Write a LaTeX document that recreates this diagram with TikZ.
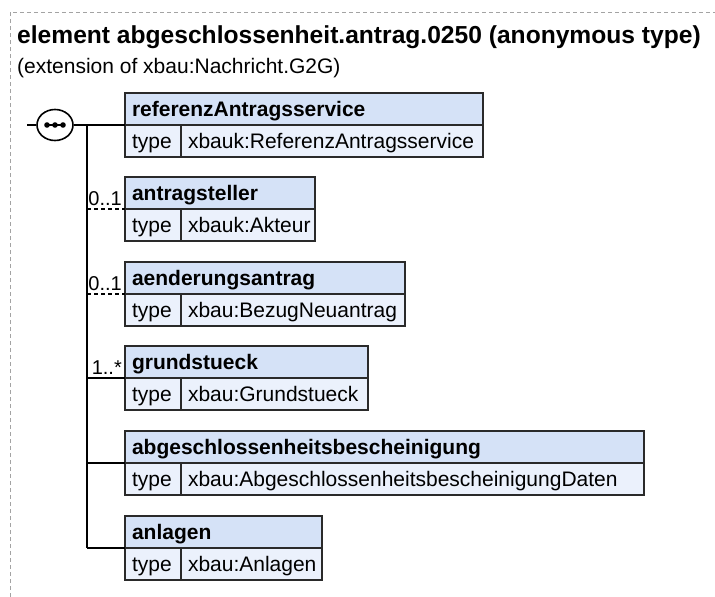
\documentclass[tikz,border=0pt]{standalone}
\usepackage{fontspec}
\setmainfont{Liberation Sans}
\definecolor{headfill}{HTML}{D5E2F7}
\definecolor{rowfill}{HTML}{EBF1FC}
\definecolor{boxline}{HTML}{2A2A2A}
\definecolor{framecol}{HTML}{A3A3A3}
\usetikzlibrary{shapes.geometric}
\hyphenpenalty=10000
\tikzset{
  elhead/.style={draw=boxline,fill=headfill,line width=1.6pt,anchor=north west,
    outer sep=0pt,inner xsep=7pt,inner ysep=0pt,minimum height=32pt,
    text width=#1,text height=16pt,text depth=2pt,align=left,
    font=\fontsize{21}{25}\selectfont\bfseries},
  elkey/.style={draw=boxline,fill=rowfill,line width=1.6pt,anchor=north west,
    outer sep=0pt,inner xsep=7pt,inner ysep=0pt,minimum height=32pt,
    text width=42pt,text height=16pt,text depth=2pt,align=left,
    font=\fontsize{21}{25}\selectfont},
  elval/.style={elkey,text width=#1},
  mult/.style={anchor=south east,inner sep=0pt,font=\fontsize{20}{24}\selectfont},
  conn/.style={line width=1.6pt},
  optconn/.style={conn,dash pattern=on 4pt off 3pt}
}

\begin{document}
\begin{tikzpicture}[x=1pt,y=-1pt]
  \useasboundingbox (0,0) rectangle (715,597);
  % ---------- frame and heading -----------------------------------
  \draw[framecol,line width=1pt,dash pattern=on 4pt off 3pt]
      (10,597) -- (10,12) -- (715,12);
  \node[anchor=base west,inner sep=0pt,font=\fontsize{24.6}{28}\selectfont\bfseries]
      (title) at (17,43) {element abgeschlossenheit.antrag.0250 (anonymous type)};
  \node[anchor=base west,inner sep=0pt,font=\fontsize{21}{25}\selectfont]
      (subtitle) at (17,73) {(extension of xbau:Nachricht.G2G)};
  % ---------- sequence compositor ---------------------------------
  \coordinate (inlet) at (27,125);
  \coordinate (trunktop) at (87,125);
  \node[ellipse,draw,fill=white,line width=1.6pt,minimum width=36pt,
        minimum height=31pt,inner sep=0pt] (seq) at (55,125) {};
  \draw[line width=1.2pt] ([xshift=-9pt]seq.center) -- ([xshift=9pt]seq.center);
  \foreach \dx in {-8,0,8}
    \fill ([xshift=\dx pt]seq.center) circle (2.8pt);
  % ---------- referenzAntragsservice ------------------------------
  \node[elhead=344pt] (refHead) at (125,93) {referenzAntragsservice};
  \node[elkey] (refKey) at (refHead.south west) {type};
  \node[elval=288pt] (refVal) at (refKey.north east) {xbauk:ReferenzAntragsservice};
  % ---------- antragsteller (0..1) --------------------------------
  \node[elhead=176pt] (stHead) at (125,177) {antragsteller};
  \node[elkey] (stKey) at (stHead.south west) {type};
  \node[elval=120pt] (stVal) at (stKey.north east) {xbauk:Akteur};
  % ---------- aenderungsantrag (0..1) -----------------------------
  \node[elhead=266pt] (aeHead) at (125,262) {aenderungsantrag};
  \node[elkey] (aeKey) at (aeHead.south west) {type};
  \node[elval=210pt] (aeVal) at (aeKey.north east) {xbau:BezugNeuantrag};
  % ---------- grundstueck (1..*) ----------------------------------
  \node[elhead=229pt] (gsHead) at (125,346) {grundstueck};
  \node[elkey] (gsKey) at (gsHead.south west) {type};
  \node[elval=173pt] (gsVal) at (gsKey.north east) {xbau:Grundstueck};
  % ---------- abgeschlossenheitsbescheinigung ---------------------
  \node[elhead=505pt] (abHead) at (125,431) {abgeschlossenheitsbescheinigung};
  \node[elkey] (abKey) at (abHead.south west) {type};
  \node[elval=449pt] (abVal) at (abKey.north east) {xbau:AbgeschlossenheitsbescheinigungDaten};
  % ---------- anlagen ---------------------------------------------
  \node[elhead=183pt] (anHead) at (125,516) {anlagen};
  \node[elkey] (anKey) at (anHead.south west) {type};
  \node[elval=127pt] (anVal) at (anKey.north east) {xbau:Anlagen};
  % ---------- connectors ------------------------------------------
  \draw[conn] (inlet) -- (seq.west);
  \draw[conn] (seq.east) -- (refHead.south west);
  \draw[conn] (trunktop) -- (trunktop |- anHead.south west);
  \draw[optconn] (trunktop |- stHead.south west) -- (stHead.south west);
  \draw[optconn] (trunktop |- aeHead.south west) -- (aeHead.south west);
  \draw[conn] (trunktop |- gsHead.south west) -- (gsHead.south west);
  \draw[conn] (trunktop |- abHead.south west) -- (abHead.south west);
  \draw[conn] (trunktop |- anHead.south west) -- (anHead.south west);
  \node[mult] (stMult) at ([xshift=-3pt,yshift=3pt]stHead.south west) {0..1};
  \node[mult] (aeMult) at ([xshift=-3pt,yshift=3pt]aeHead.south west) {0..1};
  \node[mult] (gsMult) at ([xshift=-3pt,yshift=3pt]gsHead.south west) {1..*};
\end{tikzpicture}
\end{document}
